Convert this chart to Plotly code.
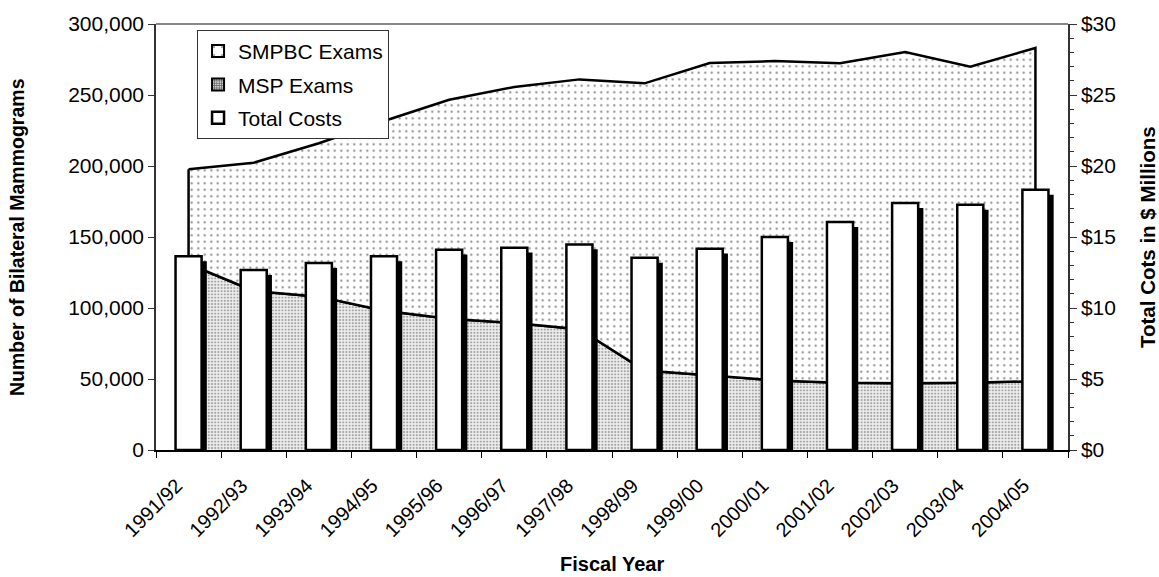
import plotly.graph_objects as go

# Fiscal years on the category axis
fiscal_years = [
    "1991/92", "1992/93", "1993/94", "1994/95", "1995/96", "1996/97", "1997/98",
    "1998/99", "1999/00", "2000/01", "2001/02", "2002/03", "2003/04", "2004/05",
]

# Bilateral mammograms by source (stacked: MSP at the bottom, SMPBC on top)
msp_exams = [131000, 112000, 108000, 98000, 92500, 89400, 85000,
             55900, 52600, 49000, 47300, 47000, 47300, 48500]
smpbc_exams = [66700, 90300, 108000, 133700, 154100, 166300, 176000,
               202300, 219900, 224900, 225000, 233300, 222700, 234600]

# Total program costs, $ millions (right axis)
total_costs_musd = [13.64, 12.68, 13.17, 13.64, 14.11, 14.25, 14.48,
                    13.54, 14.18, 15.00, 16.05, 17.39, 17.27, 18.33]

total_exams = [m + s for m, s in zip(msp_exams, smpbc_exams)]

FONT = "Liberation Sans, Arial, sans-serif"
BAR_WIDTH = 0.4
SHADOW_DX = 0.08   # drop-shadow shift, category units
SHADOW_DY = 0.35   # drop-shadow shift, $ millions

smpbc_pattern = dict(shape=".", size=6.5, solidity=0.09,
                     fgcolor="#111111", bgcolor="white")
msp_pattern = dict(shape=".", size=3.2, solidity=0.35,
                   fgcolor="#555555", bgcolor="#eeeeee")
edge = dict(color="black", width=2.5)

fig = go.Figure()

# MSP exams: lower band of the stacked area
fig.add_trace(go.Scatter(
    x=fiscal_years, y=msp_exams, mode="lines", fill="tozeroy",
    fillcolor="#eeeeee", fillpattern=msp_pattern, line=edge,
    showlegend=False, hoverinfo="skip",
))

# SMPBC exams: band between the MSP line and the combined total
band_x = fiscal_years + fiscal_years[::-1] + fiscal_years[:1]
band_y = total_exams + msp_exams[::-1] + total_exams[:1]
fig.add_trace(go.Scatter(
    x=band_x, y=band_y, mode="lines", fill="toself",
    fillcolor="white", fillpattern=smpbc_pattern, line=edge,
    showlegend=False, hoverinfo="skip",
))

# Legend keys for the two area series
fig.add_trace(go.Bar(
    x=fiscal_years[:1], y=[None], yaxis="y2", name="SMPBC Exams",
    legendgroup="smpbc",
    marker=dict(color="white", line=dict(color="black", width=2),
                pattern=dict(shape=".", size=12, solidity=0.04,
                             fgcolor="black", bgcolor="white")),
))
fig.add_trace(go.Bar(
    x=fiscal_years[:1], y=[None], yaxis="y2", name="MSP Exams",
    legendgroup="msp",
    marker=dict(color="#888888", line=dict(color="black", width=2),
                pattern=dict(shape="+", size=3, solidity=0.5,
                             fgcolor="black", bgcolor="#cccccc")),
))

# Cost columns with a black drop shadow
fig.add_trace(go.Bar(
    x=fiscal_years, y=[c - SHADOW_DY for c in total_costs_musd], yaxis="y2",
    width=BAR_WIDTH, offset=-BAR_WIDTH / 2 + SHADOW_DX,
    marker=dict(color="black", line=dict(width=0)),
    showlegend=False, hoverinfo="skip",
))
fig.add_trace(go.Bar(
    x=fiscal_years, y=total_costs_musd, yaxis="y2", name="Total Costs",
    legendgroup="costs",
    width=BAR_WIDTH, offset=-BAR_WIDTH / 2,
    marker=dict(color="white", line=dict(color="black", width=2.5)),
))

fig.update_layout(
    width=1159, height=577,
    margin=dict(l=156, r=91, t=22, b=127),
    paper_bgcolor="white", plot_bgcolor="white",
    barmode="overlay",
    font=dict(family=FONT, size=21, color="black"),
    xaxis=dict(
        type="category", range=[-0.5, 13.5], tickson="boundaries",
        ticks="outside", ticklen=6, tickcolor="black", tickwidth=1,
        showline=True, linecolor="black", linewidth=2,
        tickangle=-45, ticklabelshift=-12, ticklabelstandoff=14,
        tickfont=dict(size=20),
        showgrid=False, zeroline=False,
    ),
    yaxis=dict(
        range=[0, 300000], dtick=50000, tickformat=",",
        ticks="outside", ticklen=6, tickcolor="#333333",
        showline=True, linecolor="#333333", linewidth=1.5,
        showgrid=False, zeroline=False,
    ),
    yaxis2=dict(
        overlaying="y", side="right", range=[0, 30], dtick=5,
        tickprefix="$", ticks="outside", ticklen=7, tickcolor="#333333",
        minor=dict(dtick=1, ticks="outside", ticklen=4, tickcolor="#333333"),
        showline=True, linecolor="#333333", linewidth=1.5,
        showgrid=False, zeroline=False,
    ),
    legend=dict(
        x=0.045, y=0.986, xanchor="left", yanchor="top",
        bgcolor="white", bordercolor="#333333", borderwidth=1,
        traceorder="grouped", tracegroupgap=3, itemwidth=30,
        font=dict(family=FONT, size=21),
    ),
    shapes=[dict(type="line", xref="paper", yref="paper",
                 x0=0, x1=1, y0=1, y1=1,
                 line=dict(color="#888888", width=2))],
    annotations=[
        dict(text="<b>Number of Bilateral Mammograms</b>", xref="paper", yref="paper",
             x=-0.1524, y=0.5, textangle=-90, showarrow=False,
             xanchor="center", yanchor="middle", font=dict(size=19.5)),
        dict(text="<b>Total Cots in $ Millions</b>", xref="paper", yref="paper",
             x=1.0866, y=0.5, textangle=-90, showarrow=False,
             xanchor="center", yanchor="middle", font=dict(size=20.5)),
        dict(text="<b>Fiscal Year</b>", xref="paper", yref="paper",
             x=0.5, y=-0.2687, showarrow=False,
             xanchor="center", yanchor="middle", font=dict(size=20)),
    ],
)

fig.write_html("out.html")
